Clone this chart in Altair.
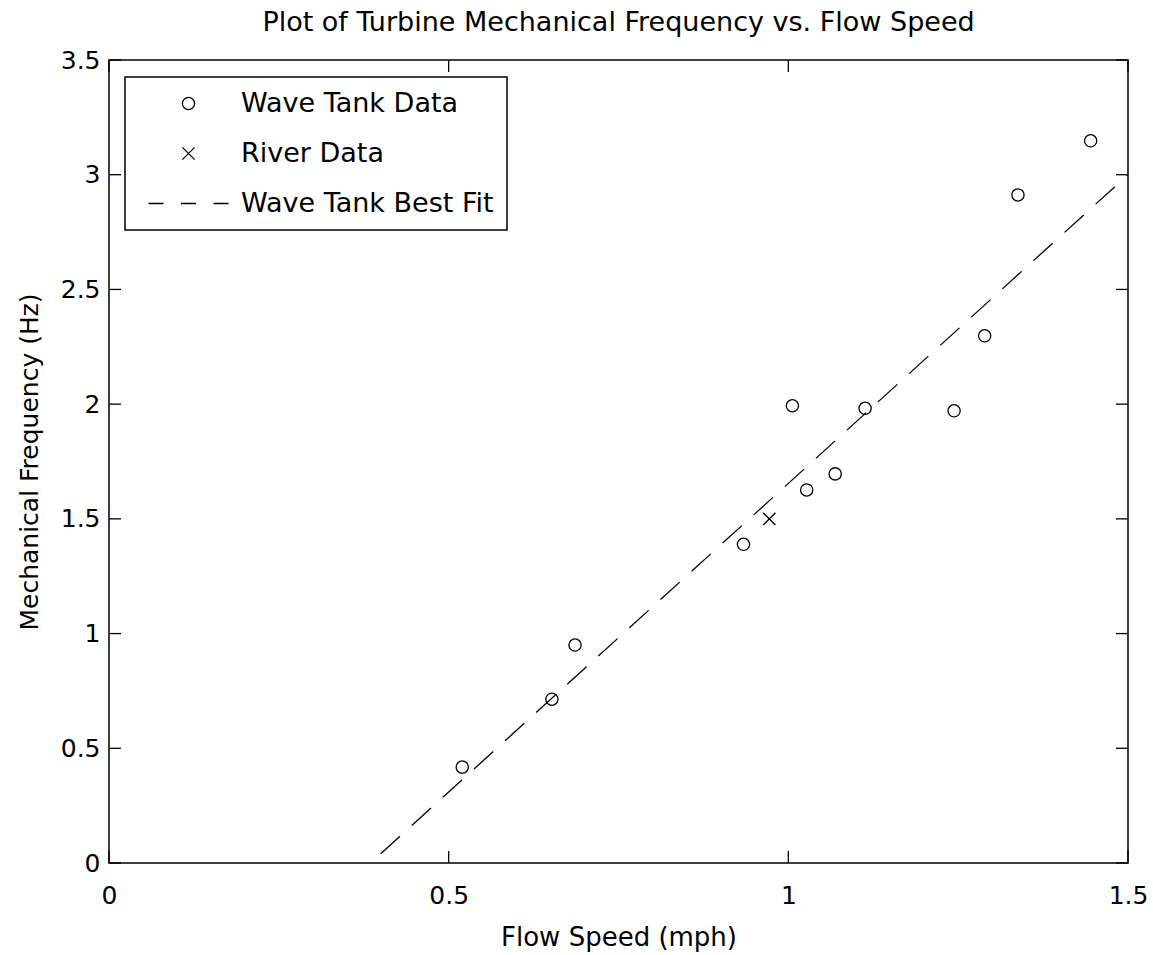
import altair as alt
import pandas as pd

# Measured turbine data
wave_speed = [0.520, 0.652, 0.686, 0.934, 1.006, 1.027, 1.069, 1.113, 1.244, 1.289, 1.338, 1.445]
wave_freq = [0.418, 0.714, 0.950, 1.389, 1.993, 1.626, 1.696, 1.982, 1.971, 2.298, 2.912, 3.148]
river_speed = [0.972]
river_freq = [1.500]

# Best-fit line through the wave tank data (end points)
fit_speed = [0.40, 1.50]
fit_freq = [0.04, 3.00]

x_ticks = [0, 0.5, 1, 1.5]
y_ticks = [0, 0.5, 1, 1.5, 2, 2.5, 3, 3.5]
series_names = ["Wave Tank Data", "River Data", "Wave Tank Best Fit"]

W, H = 1019, 803
TICK = 12
FONT = "DejaVu Sans"
FS = 25

CROSS = "M-1,-1L1,1M-1,1L1,-1"
DASH = "M-6.54,0L-4.08,0M-1.23,0L1.23,0M4.08,0L6.54,0"

points = pd.DataFrame({
    "speed": wave_speed + river_speed,
    "freq": wave_freq + river_freq,
    "series": [series_names[0]] * len(wave_speed) + [series_names[1]] * len(river_speed),
})
fit = pd.DataFrame({"speed": fit_speed, "freq": fit_freq})
xt = pd.DataFrame({"speed": x_ticks})
yt = pd.DataFrame({"freq": y_ticks})

x_scale = alt.Scale(domain=[0, 1.5], nice=False, zero=False)
y_scale = alt.Scale(domain=[0, 3.5], nice=False, zero=False)

X_TITLE = "Flow Speed (mph)"
Y_TITLE = "Mechanical Frequency (Hz)"

x_axis = alt.Axis(
    title=X_TITLE, values=x_ticks, format="~g", ticks=False, tickSize=0,
    domain=False, grid=False, labelFlush=False, labelOverlap=False,
    labelPadding=40, labelBaseline="alphabetic", labelFont=FONT, labelFontSize=FS,
    labelColor="black", titleFont=FONT, titleFontSize=26, titleFontWeight="normal",
    titleColor="black", titleX=W / 2, titleY=82, titleBaseline="alphabetic",
    titleAlign="center",
)
y_axis = alt.Axis(
    title=Y_TITLE, values=y_ticks, format="~g", ticks=False, tickSize=0,
    domain=False, grid=False, labelFlush=False, labelOverlap=False,
    labelPadding=9, labelAlign="right", labelBaseline="middle", labelFont=FONT,
    labelFontSize=FS, labelColor="black", titleFont=FONT, titleFontSize=FS,
    titleFontWeight="normal", titleColor="black", titleX=-72, titleY=H / 2,
    titleBaseline="alphabetic", titleAlign="center", titleAngle=270,
)

fit_line = alt.Chart(fit).mark_line(
    color="black", strokeWidth=1.3, strokeDash=[26, 16]
).encode(
    x=alt.X("speed:Q", scale=x_scale, axis=x_axis),
    y=alt.Y("freq:Q", scale=y_scale, axis=y_axis),
)

pts = alt.Chart(points).mark_point(
    filled=False, size=150, strokeWidth=1.3, color="black", opacity=1
).encode(
    x=alt.X("speed:Q", scale=x_scale, title=X_TITLE),
    y=alt.Y("freq:Q", scale=y_scale, title=Y_TITLE),
    shape=alt.Shape(
        "series:N",
        scale=alt.Scale(domain=series_names, range=["circle", CROSS, DASH]),
        legend=alt.Legend(
            title=None, orient="none", legendX=16, legendY=17, padding=13,
            fillColor="white", strokeColor="black",
            symbolSize=150, symbolStrokeWidth=1.3,
            symbolStrokeColor="black", symbolFillColor="transparent",
            symbolOffset=37, labelOffset=39, labelFont=FONT, labelFontSize=27,
            labelColor="black", labelLimit=0, rowPadding=22,
        ),
    ),
)

rule = dict(color="black", strokeWidth=1.3)
ticks_bottom = alt.Chart(xt).mark_rule(**rule).encode(
    x=alt.X("speed:Q", scale=x_scale, title=X_TITLE), y=alt.value(H), y2=alt.value(H - TICK)
)
ticks_top = alt.Chart(xt).mark_rule(**rule).encode(
    x=alt.X("speed:Q", scale=x_scale, title=X_TITLE), y=alt.value(0), y2=alt.value(TICK)
)
ticks_left = alt.Chart(yt).mark_rule(**rule).encode(
    y=alt.Y("freq:Q", scale=y_scale, title=Y_TITLE), x=alt.value(0), x2=alt.value(TICK)
)
ticks_right = alt.Chart(yt).mark_rule(**rule).encode(
    y=alt.Y("freq:Q", scale=y_scale, title=Y_TITLE), x=alt.value(W), x2=alt.value(W - TICK)
)

chart = alt.layer(
    fit_line, pts, ticks_bottom, ticks_top, ticks_left, ticks_right
).properties(
    width=W,
    height=H,
    title=alt.Title(
        text="Plot of Turbine Mechanical Frequency vs. Flow Speed",
        font=FONT, fontSize=27, fontWeight="normal", color="black",
        offset=27, dy=37, baseline="alphabetic", frame="group", anchor="middle",
    ),
    padding={"left": 109, "top": 60, "right": 25, "bottom": 92},
    autosize=alt.AutoSizeParams(type="none"),
).configure(
    background="white"
).configure_view(
    stroke="black", strokeWidth=1.5
).configure_legend(
    strokeWidth=1.5, cornerRadius=0
)

chart.save("out.html", embed_options={"renderer": "svg", "actions": False})
